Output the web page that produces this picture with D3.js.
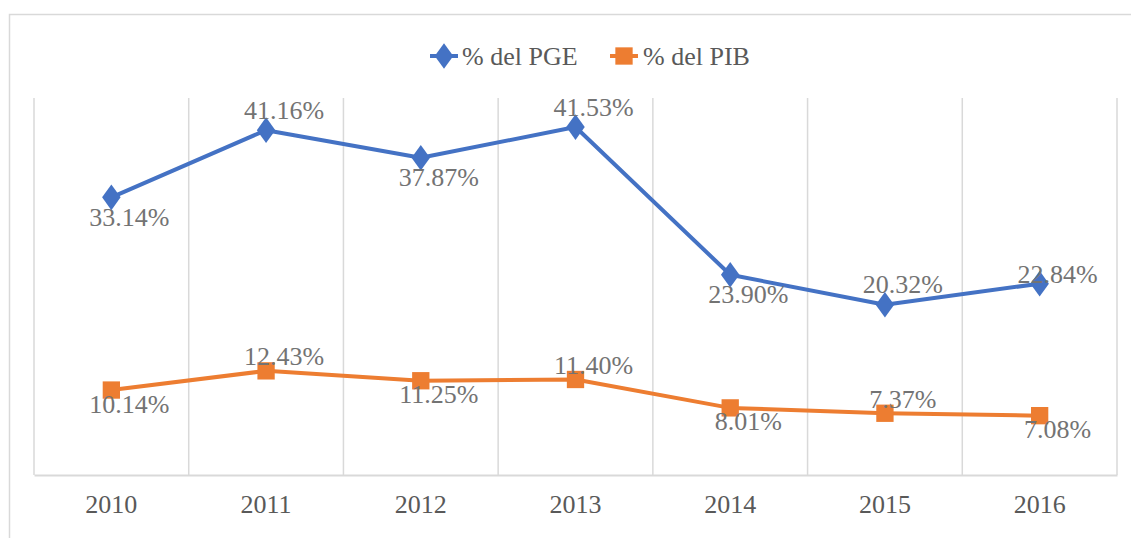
<!DOCTYPE html>
<html>
<head>
<meta charset="utf-8">
<script src="https://cdnjs.cloudflare.com/ajax/libs/d3/7.8.5/d3.min.js"></script>
<style>
  html, body { margin: 0; padding: 0; background: #fff; }
  svg { display: block; }
</style>
</head>
<body>
<svg id="chart" width="1131" height="538"></svg>
<script>
// Data
var years = ['2010', '2011', '2012', '2013', '2014', '2015', '2016'];
var pgeValues = [33.14, 41.16, 37.87, 41.53, 23.90, 20.32, 22.84];
var pibValues = [10.14, 12.43, 11.25, 11.40, 8.01, 7.37, 7.08];
var pgeLabelPos = ['below', 'above', 'below', 'above', 'below', 'above', 'right'];
var pibLabelPos = ['below', 'above', 'below', 'above', 'below', 'above', 'below'];
var seriesNames = ['% del PGE', '% del PIB'];

var FONT = '"Liberation Serif", serif';
var svg = d3.select('#chart');
var margin = { top: 98, right: 14, bottom: 63, left: 34 };
var width = +svg.attr('width');
var height = +svg.attr('height');

// outer frame
svg.append('rect')
  .attr('x', 9.5)
  .attr('y', 14.5)
  .attr('width', width + 20)
  .attr('height', height + 20)
  .attr('fill', '#fff')
  .attr('stroke', '#d9d9d9')
  .attr('stroke-width', 1.5);

var x = d3.scaleBand()
  .domain(years)
  .range([margin.left, width - margin.right])
  .padding(0);

var y = d3.scaleLinear()
  .domain([0, 45])
  .range([height - margin.bottom, margin.top]);

// vertical gridlines at category boundaries
var bounds = years.map(function(d) { return x(d); }).concat([x.range()[1]]);
svg.append('g').selectAll('line')
  .data(bounds)
  .enter().append('line')
  .attr('x1', function(d) { return d; })
  .attr('x2', function(d) { return d; })
  .attr('y1', y.range()[1])
  .attr('y2', y.range()[0])
  .attr('stroke', '#d9d9d9')
  .attr('stroke-width', 1.5);

// x axis
var xAxis = svg.append('g')
  .attr('transform', 'translate(0,' + y(0) + ')')
  .call(d3.axisBottom(x).tickSize(0).tickPadding(20));
xAxis.attr('font-family', null).attr('font-size', null);
xAxis.select('.domain').attr('stroke', '#d9d9d9').attr('stroke-width', 2);
xAxis.selectAll('text')
  .style('font-size', '26px')
  .style('font-family', FONT)
  .attr('fill', '#595959');

var series = [
  { name: seriesNames[0], values: pgeValues, color: '#4472C4', symbol: d3.symbolDiamond, size: 190, pos: pgeLabelPos, off: 20 },
  { name: seriesNames[1], values: pibValues, color: '#ED7D31', symbol: d3.symbolSquare, size: 300, pos: pibLabelPos, off: 14 }
];

var line = d3.line()
  .x(function(d, i) { return x(years[i]) + x.bandwidth() / 2; })
  .y(function(d) { return y(d); });

series.forEach(function(s) {
  var g = svg.append('g');
  g.append('path')
    .datum(s.values)
    .attr('d', line)
    .attr('fill', 'none')
    .attr('stroke', s.color)
    .attr('stroke-width', 4)
    .attr('stroke-linejoin', 'round');

  g.selectAll('.marker')
    .data(s.values)
    .enter().append('path')
    .attr('class', 'marker')
    .attr('d', d3.symbol().type(s.symbol).size(s.size))
    .attr('transform', function(d, i) {
      var sx = s.symbol === d3.symbolDiamond ? 'scale(1.25,1)' : '';
      return 'translate(' + (x(years[i]) + x.bandwidth() / 2) + ',' + y(d) + ')' + sx;
    })
    .attr('fill', s.color);

  g.selectAll('.label')
    .data(s.values)
    .enter().append('text')
    .attr('class', 'label')
    .attr('x', function(d, i) { return x(years[i]) + x.bandwidth() / 2 + 18; })
    .attr('y', function(d, i) {
      var p = s.pos[i];
      if (p === 'above') return y(d) - s.off;
      if (p === 'right') return y(d) - 9;
      return y(d) + s.off;
    })
    .attr('text-anchor', 'middle')
    .attr('dominant-baseline', 'central')
    .style('font-family', FONT)
    .style('font-size', '26px')
    .attr('fill', '#737373')
    .text(function(d) { return d.toFixed(2) + '%'; });
});

// legend
var legend = svg.append('g').attr('transform', 'translate(0,56)');
var legendX = [430, 610];
series.forEach(function(s, i) {
  var lg = legend.append('g').attr('transform', 'translate(' + legendX[i] + ',0)');
  lg.append('line')
    .attr('x1', 0).attr('x2', 28)
    .attr('y1', 0).attr('y2', 0)
    .attr('stroke', s.color)
    .attr('stroke-width', 4);
  lg.append('path')
    .attr('d', d3.symbol().type(s.symbol).size(s.size))
    .attr('transform', 'translate(14,0)' + (s.symbol === d3.symbolDiamond ? 'scale(1.25,1)' : ''))
    .attr('fill', s.color);
  lg.append('text')
    .attr('x', i === 0 ? 32 : 33)
    .attr('y', 0)
    .attr('dominant-baseline', 'central')
    .style('font-family', FONT)
    .style('font-size', '26px')
    .attr('fill', '#595959')
    .text(s.name);
});
</script>
</body>
</html>
